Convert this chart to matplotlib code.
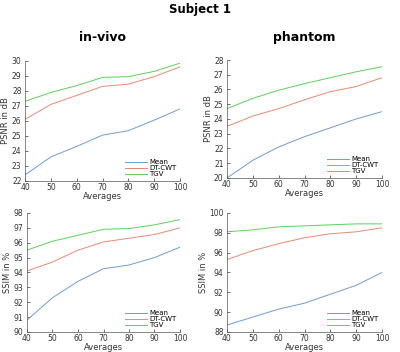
import matplotlib
matplotlib.use("Agg")
import matplotlib.pyplot as plt

averages = [40, 50, 60, 70, 80, 90, 100]
series_names = ["Mean", "DT-CWT", "TGV"]

psnr_invivo_mean = [22.4, 23.6, 24.3, 25.05, 25.35, 26.05, 26.8]
psnr_invivo_dtcwt = [26.1, 27.1, 27.7, 28.3, 28.45, 28.95, 29.6]
psnr_invivo_tgv = [27.3, 27.9, 28.35, 28.9, 28.95, 29.3, 29.85]

psnr_phantom_mean = [20.0, 21.2, 22.1, 22.8, 23.4, 24.0, 24.5]
psnr_phantom_dtcwt = [23.5, 24.2, 24.7, 25.3, 25.85, 26.2, 26.8]
psnr_phantom_tgv = [24.7, 25.4, 25.95, 26.4, 26.8, 27.2, 27.55]

ssim_invivo_mean = [90.8, 92.3, 93.4, 94.25, 94.5, 95.0, 95.7]
ssim_invivo_dtcwt = [94.1, 94.7, 95.5, 96.05, 96.3, 96.55, 97.0]
ssim_invivo_tgv = [95.5, 96.1, 96.5, 96.9, 96.95, 97.2, 97.55]

ssim_phantom_mean = [88.7, 89.5, 90.3, 90.9, 91.8, 92.7, 94.0]
ssim_phantom_dtcwt = [95.3, 96.2, 96.9, 97.5, 97.9, 98.1, 98.5]
ssim_phantom_tgv = [98.1, 98.3, 98.6, 98.7, 98.8, 98.9, 98.9]

colors = ["#6f9bd0", "#e88a72", "#5fcf5a"]

fig = plt.figure(figsize=(4.0, 3.52), dpi=100)
fig.text(0.5, 0.992, "Subject 1", ha="center", va="top", fontsize=8.5, fontweight="bold")

panels = [
    ([0.0625, 0.486, 0.3875, 0.341], "in-vivo", "PSNR in dB",
     [psnr_invivo_mean, psnr_invivo_dtcwt, psnr_invivo_tgv], (22, 30), list(range(22, 31))),
    ([0.5675, 0.4945, 0.3875, 0.335], "phantom", "PSNR in dB",
     [psnr_phantom_mean, psnr_phantom_dtcwt, psnr_phantom_tgv], (20, 28), list(range(20, 29))),
    ([0.0675, 0.057, 0.3825, 0.338], None, "SSIM in %",
     [ssim_invivo_mean, ssim_invivo_dtcwt, ssim_invivo_tgv], (90, 98), list(range(90, 99))),
    ([0.5675, 0.057, 0.3875, 0.338], None, "SSIM in %",
     [ssim_phantom_mean, ssim_phantom_dtcwt, ssim_phantom_tgv], (88, 100), list(range(88, 101, 2))),
]

for rect, title, ylabel, data, ylim, yticks in panels:
    ax = fig.add_axes(rect)
    for name, vals, c in zip(series_names, data, colors):
        ax.plot(averages, vals, color=c, lw=0.7, label=name)
    ax.set_xlim(40, 100)
    ax.set_ylim(*ylim)
    ax.set_xticks(averages)
    ax.set_yticks(yticks)
    ax.spines["top"].set_visible(False)
    ax.spines["right"].set_visible(False)
    for s in ("left", "bottom"):
        ax.spines[s].set_linewidth(0.5)
        ax.spines[s].set_color("#555555")
    ax.tick_params(direction="in", length=2, width=0.5, labelsize=5.5, colors="#333333", pad=2.5)
    ax.tick_params(axis="x", pad=1.5)
    ax.set_xlabel("Averages", fontsize=6, labelpad=0, color="#333333")
    ax.set_ylabel(ylabel, fontsize=6, labelpad=1, color="#333333")
    if title:
        ax.set_title(title, fontsize=9, fontweight="bold", pad=14)
    ax.legend(loc="lower right", frameon=False, fontsize=5, handlelength=3.2,
              handletextpad=0.3, labelspacing=0.0, borderaxespad=0.1)

fig.savefig("out.png", dpi=100)
